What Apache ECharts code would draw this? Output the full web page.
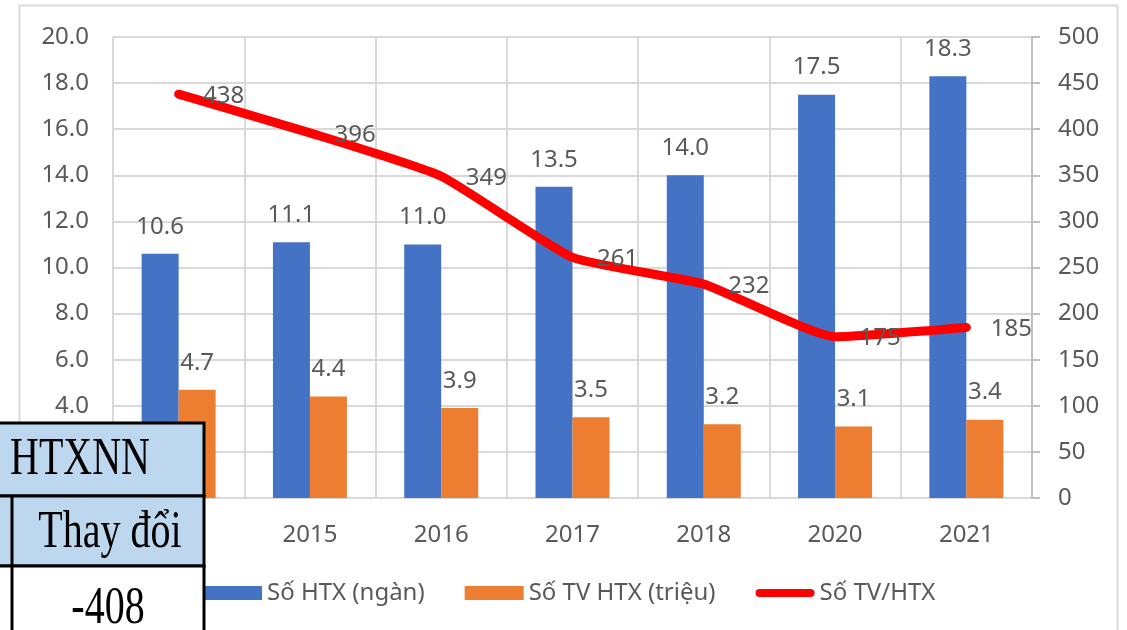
<!DOCTYPE html>
<html>
<head>
<meta charset="utf-8">
<script src="https://cdn.jsdelivr.net/npm/echarts@6/dist/echarts.min.js"></script>
<style>
  html, body { margin: 0; padding: 0; background: #fff; }
  #chart { width: 1127px; height: 630px; }
</style>
</head>
<body>
<div id="chart"></div>
<script>
// data (first year is hidden behind the table)
const years = ['2013', '2015', '2016', '2017', '2018', '2020', '2021']
const soHtx = [10.6, 11.1, 11.0, 13.5, 14.0, 17.5, 18.3]
const soTvHtx = [4.7, 4.4, 3.9, 3.5, 3.2, 3.1, 3.4]
const tvPerHtx = [438, 396, 349, 261, 232, 175, 185]
const tableRows = ['HTXNN', 'Thay đổi', '-408']

const font = 'Noto Sans'
const textColor = '#595959'
const gridColor = '#d9d9d9'
const serif = '40px "Liberation Serif"'

// pill shaped legend icon for the line; the two empty sub paths keep the box 14 tall
const lineIcon = 'path://M0,0 L0,0 Z M0,14 L0,14 Z M4,3 L55,3 A4,4 0 0 1 55,11 L4,11 A4,4 0 0 1 4,3 Z'

const myChart = echarts.init(document.getElementById('chart'))

// table cells drawn above everything else
const onTop = (el) => Object.assign(el, { zlevel: 5, z: 100, silent: true })

myChart.setOption({
  backgroundColor: '#fff',
  animation: false,
  textStyle: { fontFamily: font },
  grid: { left: 113, right: 95, top: 37, bottom: 132 },
  legend: {
    top: 576,
    left: 198,
    itemGap: 40,
    itemWidth: 59,
    itemHeight: 14,
    textStyle: { fontSize: 24, color: textColor, fontFamily: font },
    data: [
      { name: 'Số HTX (ngàn)', icon: 'rect' },
      { name: 'Số TV HTX (triệu)', icon: 'rect' },
      { name: 'Số TV/HTX', icon: lineIcon, itemStyle: { color: '#ff0000' }, lineStyle: { width: 0 } },
    ],
  },
  xAxis: {
    type: 'category',
    data: years,
    axisLine: { show: false },
    axisTick: { show: false },
    axisLabel: { color: textColor, fontSize: 24, margin: 25 },
    splitLine: { show: true, lineStyle: { color: gridColor, width: 2 } },
  },
  yAxis: [
    {
      type: 'value',
      min: 0,
      max: 20,
      interval: 2,
      axisLine: { show: false },
      axisTick: { show: false },
      axisLabel: {
        color: textColor,
        fontSize: 24,
        margin: 24,
        formatter: (v) => v.toFixed(1),
      },
      splitLine: { lineStyle: { color: gridColor, width: 2 } },
    },
    {
      type: 'value',
      min: 0,
      max: 500,
      interval: 50,
      axisLine: { show: true, lineStyle: { color: '#bfbfbf', width: 2 } },
      axisTick: { show: true, length: 8, lineStyle: { color: '#bfbfbf', width: 2 } },
      axisLabel: { color: textColor, fontSize: 24, margin: 26 },
      splitLine: { show: false },
    },
  ],
  series: [
    {
      name: 'Số HTX (ngàn)',
      type: 'bar',
      data: soHtx,
      barWidth: 37,
      barGap: '0%',
      itemStyle: { color: '#4472c4' },
      label: {
        show: true,
        position: 'top',
        distance: 15,
        color: textColor,
        fontSize: 24,
        formatter: (p) => p.value.toFixed(1),
      },
    },
    {
      name: 'Số TV HTX (triệu)',
      type: 'bar',
      data: soTvHtx,
      barWidth: 37,
      barGap: '0%',
      itemStyle: { color: '#ed7d31' },
      label: {
        show: true,
        position: 'top',
        distance: 15,
        color: textColor,
        fontSize: 24,
        formatter: (p) => p.value.toFixed(1),
      },
    },
    {
      name: 'Số TV/HTX',
      type: 'line',
      yAxisIndex: 1,
      data: tvPerHtx,
      smooth: 0.15,
      symbol: 'circle',
      symbolSize: 1,
      itemStyle: { color: '#ff0000' },
      lineStyle: { color: '#ff0000', width: 9, cap: 'round', join: 'round' },
      label: {
        show: true,
        position: 'right',
        distance: 24,
        offset: [0, 2],
        color: textColor,
        fontSize: 24,
      },
      z: 5,
    },
  ],
  graphic: [
    // chart frame
    {
      type: 'rect',
      shape: { x: 19.5, y: 5.5, width: 1098, height: 640 },
      style: { fill: 'none', stroke: gridColor, lineWidth: 2 },
      silent: true,
      z: -1,
    },
    // pasted table fragment over the bottom-left corner
    onTop({ type: 'rect', shape: { x: -2, y: 423, width: 206, height: 73 }, style: { fill: '#bdd7ee', stroke: '#000', lineWidth: 3 } }),
    onTop({ type: 'rect', shape: { x: -2, y: 496, width: 206, height: 70 }, style: { fill: '#bdd7ee', stroke: '#000', lineWidth: 3 } }),
    onTop({ type: 'rect', shape: { x: -2, y: 566, width: 206, height: 70 }, style: { fill: '#fff', stroke: '#000', lineWidth: 3 } }),
    onTop({ type: 'line', shape: { x1: 12, y1: 496, x2: 12, y2: 630 }, style: { stroke: '#000', lineWidth: 3 } }),
    onTop({ type: 'text', x: 10, y: 460, scaleY: 1.3, style: { text: tableRows[0], verticalAlign: 'middle', font: serif, fill: '#000' } }),
    onTop({ type: 'text', x: 110, y: 533, scaleY: 1.3, style: { text: tableRows[1], align: 'center', verticalAlign: 'middle', font: serif, fill: '#000' } }),
    onTop({ type: 'text', x: 108, y: 609, scaleY: 1.3, style: { text: tableRows[2], align: 'center', verticalAlign: 'middle', font: serif, fill: '#000' } }),
  ],
})

window.addEventListener('resize', () => {
  myChart.resize()
})
</script>
</body>
</html>
